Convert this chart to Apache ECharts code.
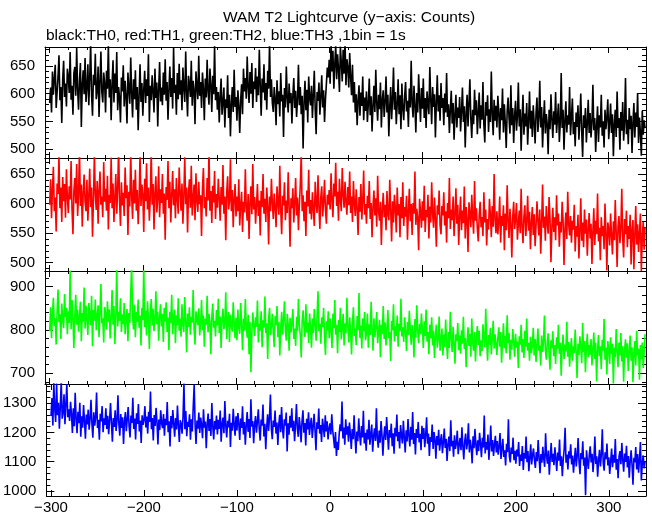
<!DOCTYPE html>
<html>
<head>
<meta charset="utf-8">
<script src="https://cdn.jsdelivr.net/npm/echarts@6.0.0/dist/echarts.min.js"></script>
<style>
html,body{margin:0;padding:0;background:#fff;}
#chart{width:652px;height:515px;}
</style>
</head>
<body>
<div id="chart"></div>
<script>
// ---- data (1 bin = 1 s, first bin at t = -300 s) ----
const T0 = -300;
const titleText = 'WAM T2 Lightcurve (y\u2212axis: Counts)';
const subtitleText = 'black:TH0, red:TH1, green:TH2, blue:TH3 ,1bin = 1s';
const seriesNames = ['TH0', 'TH1', 'TH2', 'TH3'];

const th0 = [
583,611,566,640,598,627,652,574,603,631,669,588,612,547,626,659,594,618,577,645,
630,601,675,589,614,562,637,648,596,682,608,571,623,655,540,617,642,599,664,585,
612,653,579,628,691,597,560,634,615,672,590,605,649,558,621,676,603,584,638,619,
566,641,609,688,593,626,552,617,660,584,636,601,675,570,612,593,548,629,604,651,
577,623,594,546,638,609,582,665,601,557,626,590,642,571,612,534,597,653,585,619,
560,607,641,583,626,596,671,549,614,588,633,603,566,645,592,620,541,608,657,586,
611,579,638,598,662,587,621,553,607,649,594,628,573,683,601,616,562,637,590,654,
598,624,570,647,611,585,676,603,559,632,617,594,659,578,623,606,545,640,613,590,
668,596,621,574,638,609,552,627,593,661,604,580,645,616,567,632,599,686,588,612,
571,603,548,595,627,562,584,611,539,590,574,633,556,598,523,581,612,567,643,576,
594,551,606,578,529,589,617,563,645,604,628,591,667,612,583,639,600,655,574,622,
608,646,585,631,597,679,615,560,627,602,653,588,619,571,641,609,692,594,626,583,
567,612,590,543,624,581,604,559,637,586,598,522,610,575,649,592,566,618,583,601,
546,597,628,574,605,558,589,652,579,612,563,596,501,584,623,570,607,548,631,592,
579,614,556,598,641,571,527,603,587,620,562,594,633,575,606,549,590,618,647,629,
661,618,692,640,677,609,653,688,626,671,644,603,685,657,622,679,636,694,615,662,
648,611,673,630,597,652,584,621,566,599,543,587,615,560,602,578,631,552,593,569,
604,549,582,627,561,595,532,578,614,567,643,583,551,598,572,620,539,589,606,558,
585,631,566,598,523,577,612,554,590,647,571,603,545,581,626,563,597,536,618,574,
552,596,621,568,587,540,609,575,659,583,557,614,579,530,601,566,635,588,549,610,
573,627,556,592,538,604,581,563,648,589,545,612,576,599,521,585,633,568,597,551,
619,574,592,543,600,566,637,558,581,529,571,605,546,583,517,562,598,539,575,556,
594,532,568,611,549,577,503,563,598,541,582,626,555,520,571,545,607,561,588,527,
566,602,537,579,553,621,544,512,585,560,597,531,572,549,640,563,525,589,551,578,
539,596,566,517,574,552,609,530,581,547,502,568,593,556,528,615,543,574,511,560,
587,533,559,620,541,572,497,555,598,526,564,541,583,508,551,604,537,569,522,579,
548,510,566,593,531,557,623,539,576,503,552,588,528,563,545,491,571,536,599,554,
520,568,544,603,529,556,582,513,547,637,538,571,499,552,586,530,561,544,612,525,
558,591,527,549,505,566,540,579,517,553,600,532,486,561,538,574,512,547,589,529,
565,521,548,616,534,556,495,542,577,513,561,539,598,524,550,503,571,536,557,590,
518,547,582,529,563,487,545,571,522,604,538,556,499,567,533,585,515,549,628,527,
553,509,574,536,560,493,548,583,521,566,540,601,511,557,530,488,569,526,552,538
];

const th1 = [
598,641,575,623,662,587,610,553,634,616,681,592,627,569,645,604,633,576,658,611,
584,629,607,672,590,548,621,643,600,667,579,615,692,596,632,561,618,649,603,587,
640,571,612,659,594,627,544,606,683,615,589,638,566,622,654,598,612,577,670,603,
625,588,647,556,615,601,678,592,634,569,611,650,583,624,695,605,562,636,597,618,
579,661,609,631,547,620,595,687,612,574,640,600,657,588,623,565,607,684,596,632,
615,552,642,604,668,590,627,571,611,689,598,633,556,619,646,585,609,663,577,624,
601,650,583,617,539,628,606,672,592,637,568,614,655,597,624,575,643,609,583,661,
620,588,634,566,612,679,599,627,551,618,641,593,664,580,609,632,572,651,605,586,
637,599,614,545,626,660,592,611,578,643,605,690,588,621,567,630,602,655,574,616,
593,642,609,571,628,598,665,583,612,538,619,646,590,604,675,587,623,560,609,633,
578,612,587,641,563,598,620,552,603,585,658,594,571,616,540,601,629,582,667,590,
611,566,598,633,579,605,546,621,594,650,583,608,569,627,596,531,612,587,642,601,
574,617,593,560,629,602,581,664,590,548,613,597,636,572,605,584,653,596,527,609,
592,626,568,601,643,580,610,555,598,632,685,587,614,570,603,545,622,595,657,583,
606,573,619,591,562,637,600,584,648,594,557,611,629,578,603,640,589,566,615,598,
623,590,651,606,577,634,612,669,596,620,571,642,608,587,660,615,593,637,602,581,
628,597,654,584,612,569,638,601,579,624,592,547,611,586,633,573,604,656,581,599,
566,613,592,638,574,601,543,595,622,580,609,561,647,587,571,603,530,591,618,577,
598,555,621,583,572,640,589,536,604,568,615,592,551,627,580,599,543,611,575,636,
562,594,578,613,539,586,625,570,599,547,601,583,654,564,591,576,521,608,587,559,
604,571,630,552,589,577,615,541,595,568,636,583,559,610,574,527,597,581,622,563,
548,596,580,619,563,587,534,601,575,643,557,590,572,612,545,581,626,566,598,530,
579,612,555,588,567,629,541,594,573,518,602,583,560,615,576,549,638,571,592,557,
536,581,603,560,577,545,619,568,590,529,574,556,608,582,543,596,561,650,573,550,
587,548,569,612,534,579,562,597,521,583,555,631,570,542,591,566,509,578,603,557,
574,601,539,566,588,550,625,561,533,579,597,545,570,613,554,586,523,568,594,547,
582,528,563,604,571,546,590,515,566,632,559,578,537,596,568,549,611,574,501,560,
593,552,577,538,614,563,583,527,569,551,603,572,496,557,585,540,620,565,546,579,
534,571,556,598,519,562,544,581,507,553,609,537,568,526,590,549,573,512,556,584,
541,566,498,553,592,530,571,548,617,536,559,504,577,545,562,523,600,551,487,568,
557,529,583,546,514,570,538,606,552,493,561,579,533,556,625,541,509,574,548,588,
526,562,540,581,497,555,572,489,548,596,531,565,518,550,583,486,542,569,522,560
];

const th2 = [
797,852,781,838,874,809,827,766,845,893,818,836,779,861,822,804,883,830,851,790,
843,816,937,802,869,825,758,834,881,812,847,796,829,865,774,839,819,898,803,856,
825,788,862,834,811,879,762,846,821,870,799,832,857,783,840,906,815,827,771,853,
838,801,866,819,847,780,829,892,812,855,767,834,945,808,842,821,873,795,836,813,
862,790,827,848,774,839,816,884,952,829,801,858,783,841,819,870,805,833,764,851,
823,948,806,844,787,866,828,756,835,871,810,849,797,826,889,813,842,775,830,859,
808,837,772,851,819,864,795,829,753,842,816,881,790,823,847,769,834,811,873,798,
826,784,859,812,795,876,821,748,838,806,852,789,830,817,892,801,766,843,824,811,
850,787,815,869,799,833,761,826,812,879,794,837,818,744,828,861,805,821,785,846,
810,872,793,831,758,827,849,802,816,887,779,823,841,772,835,811,796,864,818,781,
828,776,847,805,791,862,814,753,826,798,871,809,782,835,744,819,702,793,840,811,
786,829,807,868,771,814,798,843,760,822,805,877,792,815,733,826,851,788,809,837,
797,760,832,811,855,783,819,741,806,842,789,823,866,800,775,837,812,752,828,794,
815,848,779,803,763,830,797,871,812,788,736,821,845,806,784,859,794,817,770,838,
802,759,826,793,848,811,775,833,889,797,814,768,829,806,851,785,742,820,799,843,
781,826,799,758,837,804,869,789,812,746,823,795,851,778,806,837,764,815,792,874,
808,771,829,794,743,818,852,786,803,765,832,799,885,781,810,757,826,797,841,776,
792,838,759,813,788,865,801,752,827,784,806,841,769,798,823,737,812,790,855,779,
817,764,803,846,781,795,728,821,799,859,773,808,786,833,761,814,797,872,785,806,
772,829,795,751,818,788,844,803,766,811,793,736,825,782,857,798,769,814,790,838,
801,758,820,786,847,773,795,744,812,781,829,764,798,735,786,812,759,778,831,752,
776,803,741,789,760,824,771,733,795,758,842,780,749,807,768,722,790,774,816,753,
787,745,799,768,830,756,781,714,772,806,763,791,738,826,770,752,795,727,783,809,
765,798,739,776,751,813,784,760,849,773,729,788,766,805,743,779,821,757,790,768,
742,781,806,761,795,724,772,815,758,786,746,834,769,793,731,777,754,802,772,738,
791,759,773,712,785,766,812,748,779,735,798,761,826,752,770,729,784,747,763,805,
741,779,726,768,803,752,764,718,787,749,772,833,755,731,769,792,744,708,776,758,
797,739,765,721,783,757,812,745,770,694,761,789,733,766,750,819,738,772,715,756,
781,729,762,746,801,752,689,768,742,785,760,723,816,749,774,702,758,791,737,765,
743,779,718,756,794,733,770,681,751,788,739,762,709,777,752,825,731,759,697,774,
756,721,783,745,768,676,759,737,802,749,714,771,741,793,727,762,680,754,778,736,
769,705,751,787,729,760,679,746,774,718,798,741,757,685,765,732,771,712,748,790
];

const th3 = [
1256,1318,1224,1372,1281,1236,1368,1259,1302,1213,1290,1375,1247,1268,1331,1228,1296,1366,1252,1279,
1239,1305,1264,1198,1283,1221,1336,1250,1197,1271,1232,1302,1185,1255,1216,1294,1240,1178,1261,1227,
1278,1209,1246,1312,1231,1182,1269,1223,1251,1337,1215,1243,1175,1264,1238,1290,1201,1248,1226,1283,
1212,1257,1194,1240,1301,1233,1168,1249,1219,1276,1205,1242,1327,1228,1189,1263,1215,1252,1160,1237,
1270,1204,1245,1287,1221,1183,1258,1232,1319,1212,1248,1176,1266,1229,1297,1203,1241,1164,1259,1226,
1243,1290,1217,1254,1196,1271,1236,1340,1211,1249,1172,1260,1222,1284,1235,1159,1244,1208,1276,1230,
1215,1263,1189,1247,1225,1304,1201,1238,1152,1256,1214,1277,1230,1185,1249,1210,1292,1224,1167,1242,
1229,1196,1254,1368,1211,1273,1187,1236,1219,1262,1175,1245,1203,1290,1364,1226,1160,1241,1213,1268,
1198,1251,1224,1180,1279,1216,1237,1146,1229,1265,1205,1246,1188,1301,1221,1176,1239,1210,1258,1193,
1243,1212,1275,1168,1229,1251,1197,1308,1222,1183,1240,1217,1264,1150,1233,1206,1281,1226,1189,1255,
1207,1266,1231,1174,1248,1215,1290,1193,1236,1158,1225,1270,1202,1246,1181,1314,1220,1239,1163,1228,
1256,1199,1237,1279,1211,1172,1244,1223,1296,1186,1230,1142,1218,1262,1205,1250,1330,1214,1177,1241,
1219,1275,1196,1234,1157,1226,1260,1201,1287,1213,1179,1245,1223,1268,1135,1231,1192,1257,1216,1283,
1204,1240,1170,1228,1297,1212,1185,1253,1221,1166,1238,1276,1199,1232,1155,1247,1210,1269,1191,1227,
1250,1181,1219,1264,1206,1139,1235,1212,1282,1196,1225,1167,1247,1218,1184,1259,1203,1238,1176,1214,
1231,1193,1262,1207,1178,1146,1201,1119,1168,1140,1196,1228,1204,1306,1179,1217,1158,1245,1192,1221,
1168,1234,1195,1143,1212,1177,1259,1186,1128,1203,1170,1248,1191,1155,1222,1183,1274,1162,1199,1137,
1210,1176,1243,1158,1192,1227,1134,1188,1214,1171,1283,1180,1148,1206,1165,1239,1193,1120,1185,1221,
1174,1253,1196,1141,1208,1182,1230,1153,1197,1127,1216,1186,1261,1170,1201,1145,1225,1189,1162,1240,
1183,1131,1207,1169,1246,1190,1152,1219,1175,1270,1160,1198,1124,1212,1181,1236,1166,1195,1139,1223,
1178,1215,1149,1190,1252,1161,1196,1119,1184,1168,1227,1143,1201,1175,1110,1188,1156,1209,1137,1172,
1194,1129,1166,1213,1147,1178,1102,1159,1186,1136,1242,1152,1171,1117,1190,1144,1163,1206,1125,1158,
1181,1139,1218,1153,1107,1170,1196,1142,1164,1231,1131,1175,1150,1094,1187,1146,1212,1159,1122,1173,
1136,1199,1161,1115,1182,1148,1258,1128,1167,1141,1193,1106,1157,1224,1135,1174,1119,1160,1188,1131,
1170,1124,1152,1198,1109,1144,1178,1116,1139,1087,1161,1132,1245,1119,1097,1148,1126,1182,1105,1137,
1093,1141,1118,1167,1085,1124,1102,1153,1071,1129,1110,1186,1098,1136,1067,1114,1159,1090,1122,1145,
1106,1078,1133,1101,1174,1115,1060,1126,1096,1151,1109,1082,1197,1120,1093,1138,1055,1113,1164,1099,
1127,1088,1149,1112,1068,1131,1103,1176,1085,1118,1050,1107,1143,1216,1096,1124,1073,1135,1111,1159,
1090,1121,1062,1105,1147,1083,1119,1181,1098,1057,1129,1108,1170,1086,1114,985,1139,1101,1075,1123,
1152,1097,1127,1064,1110,1186,1092,1118,1048,1104,1140,1083,1125,1211,1095,1069,1132,1108,1162,1087,
1115,1058,1101,1145,1081,1123,1096,1177,1072,1109,1043,1118,1136,1091,1164,1106,1065,1128,1099,1154,
1080,1119,1045,1102,1139,1088,1021,1113,1097,1150,1073,1126,1062,1108,1167,1035,1094,1121,1077,1100
];

// ---- axis ranges and tick labels ----
const xRange = [-305, 340];
const xMajorTicks = [-300, -200, -100, 0, 100, 200, 300];
const xMinorTicks = [-300,-280,-260,-240,-220,-200,-180,-160,-140,-120,-100,-80,-60,-40,-20,0,20,40,60,80,100,120,140,160,180,200,220,240,260,280,300,320,340];

const yRanges = [[484, 684], [486, 677], [675, 936], [982, 1366]];
const yMajorTicks = [
  [500, 550, 600, 650],
  [500, 550, 600, 650],
  [700, 800, 900],
  [1000, 1100, 1200, 1300]
];
const yMinorTicks = [
  [490,500,510,520,530,540,550,560,570,580,590,600,610,620,630,640,650,660,670,680],
  [490,500,510,520,530,540,550,560,570,580,590,600,610,620,630,640,650,660,670],
  [680,700,720,740,760,780,800,820,840,860,880,900,920],
  [1000,1020,1040,1060,1080,1100,1120,1140,1160,1180,1200,1220,1240,1260,1280,1300,1320,1340,1360]
];
const colors = ['#000000', '#ff0000', '#00ff00', '#0000ff'];
const allSeries = [th0, th1, th2, th3];

// ---- layout ----
const FONT = 'Liberation Sans';
const panelEdges = [47, 158, 271, 384, 496];
const plotLeft = 45, plotRight = 6;

const grids = [], xAxes = [], yAxes = [], series = [];
const fmtX = v => String(v).replace('-', '\u2212');
const fmtY = v => String(v);

for (let g = 0; g < 4; g++) {
  grids.push({ left: plotLeft, right: plotRight, top: panelEdges[g], height: panelEdges[g + 1] - panelEdges[g] });
  const lastPanel = g === 3;
  const mkX = (pos, ticks, len, line, label) => ({
    type: 'value', gridIndex: g, position: pos, min: xRange[0], max: xRange[1],
    splitLine: { show: false },
    axisLine: { show: line, onZero: false, lineStyle: { color: '#000', width: 1 } },
    axisTick: { show: true, inside: true, length: len, customValues: ticks, lineStyle: { color: '#000', width: 1 } },
    axisLabel: label ? { show: true, customValues: ticks, formatter: fmtX, margin: 4, color: '#000', fontFamily: FONT, fontSize: 15 } : { show: false }
  });
  xAxes.push(mkX('bottom', xMajorTicks, 6, true, lastPanel));
  xAxes.push(mkX('bottom', xMinorTicks, 3, false, false));
  xAxes.push(mkX('top', xMajorTicks, 6, true, false));
  xAxes.push(mkX('top', xMinorTicks, 3, false, false));

  const mkY = (pos, ticks, len, line, label) => ({
    type: 'value', gridIndex: g, position: pos, min: yRanges[g][0], max: yRanges[g][1],
    splitLine: { show: false },
    axisLine: { show: line, onZero: false, lineStyle: { color: '#000', width: 1 } },
    axisTick: { show: true, inside: true, length: len, customValues: ticks, lineStyle: { color: '#000', width: 1 } },
    axisLabel: label ? { show: true, customValues: ticks, formatter: fmtY, margin: 10, color: '#000', fontFamily: FONT, fontSize: 15 } : { show: false }
  });
  yAxes.push(mkY('left', yMajorTicks[g], 8, true, true));
  yAxes.push(mkY('left', yMinorTicks[g], 4, false, false));
  yAxes.push(mkY('right', yMajorTicks[g], 8, true, false));
  yAxes.push(mkY('right', yMinorTicks[g], 4, false, false));

  series.push({
    name: seriesNames[g], type: 'line', xAxisIndex: 4 * g, yAxisIndex: 4 * g,
    data: allSeries[g].map((v, i) => [T0 + i, v]),
    showSymbol: false, symbol: 'none', clip: true,
    lineStyle: { color: colors[g], width: 1.6 }, itemStyle: { color: colors[g] },
    emphasis: { disabled: true }, silent: true
  });
}

const chart = echarts.init(document.getElementById('chart'), null, { renderer: 'canvas' });
chart.setOption({
  animation: false,
  backgroundColor: '#fff',
  grid: grids, xAxis: xAxes, yAxis: yAxes, series: series,
  graphic: [
    { type: 'text', x: 349, y: 18, style: { text: titleText, fill: '#000', font: '15.5px "' + FONT + '"', textAlign: 'center', textVerticalAlign: 'middle' } },
    { type: 'text', x: 46, y: 36, style: { text: subtitleText, fill: '#000', font: '15.5px "' + FONT + '"', textAlign: 'left', textVerticalAlign: 'middle' } }
  ]
});
</script>
</body>
</html>
